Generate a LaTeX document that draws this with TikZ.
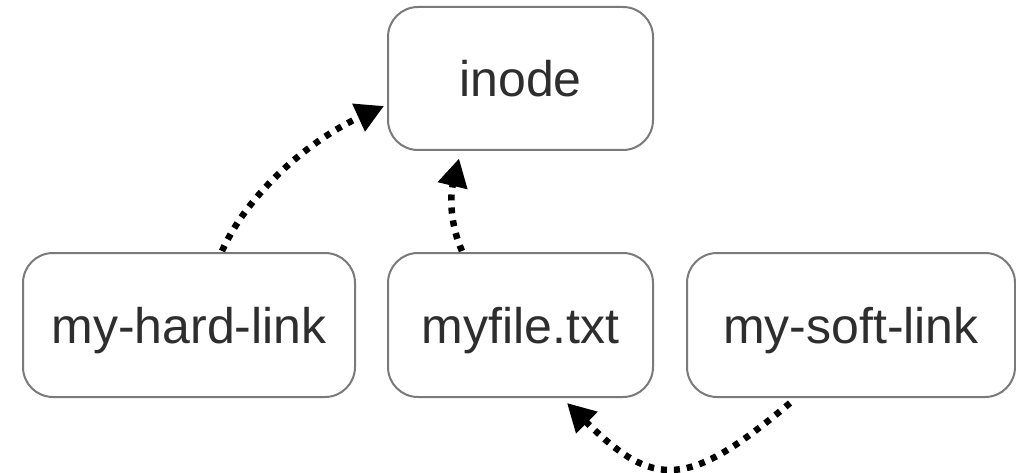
\documentclass[tikz,border=0pt]{standalone}
\usepackage{fontspec}
\setmainfont{Liberation Sans}
\usetikzlibrary{arrows.meta}
\definecolor{boxline}{HTML}{7A7A7A}
\definecolor{boxtext}{HTML}{2E2E2E}
\tikzset{
  fbox/.style={draw=boxline, line width=2pt, rounded corners=30pt, fill=white,
    text=boxtext, font=\fontsize{50}{60}\selectfont, text height=36pt, text depth=0pt,
    inner sep=0pt, anchor=center},
  dotarrow/.style={line width=6.5pt, dash pattern=on 6pt off 7pt, draw=black,
    -{Triangle[length=28pt,width=29pt]}}
}
\begin{document}
\begin{tikzpicture}[x=1pt,y=-1pt]
\useasboundingbox (0,0) rectangle (1016,473);
\node[fbox, minimum width=265pt, minimum height=143pt] (inode) at (520.5,78.5) {inode};
\node[fbox, minimum width=332pt, minimum height=144pt] (hard) at (189,325) {my-hard-link};
\node[fbox, minimum width=265pt, minimum height=144pt] (file) at (520.5,325) {myfile.txt};
\node[fbox, minimum width=328pt, minimum height=144pt] (soft) at (851,325) {my-soft-link};
\draw[dotarrow] ([shift={(33,-1)}]hard.north) .. controls +(28,-62) and +(-70,32) .. ([shift={(-3,27.5)}]inode.west);
\draw[dotarrow] ([shift={(-58.5,-1)}]file.north) .. controls +(-12,-27) and +(-9,38) .. ([shift={(-61.5,7.5)}]inode.south);
\draw[dotarrow] ([shift={(-61,5)}]soft.south) .. controls +(-102,86) and +(87,86) .. ([shift={(46.5,5)}]file.south);
\end{tikzpicture}
\end{document}
